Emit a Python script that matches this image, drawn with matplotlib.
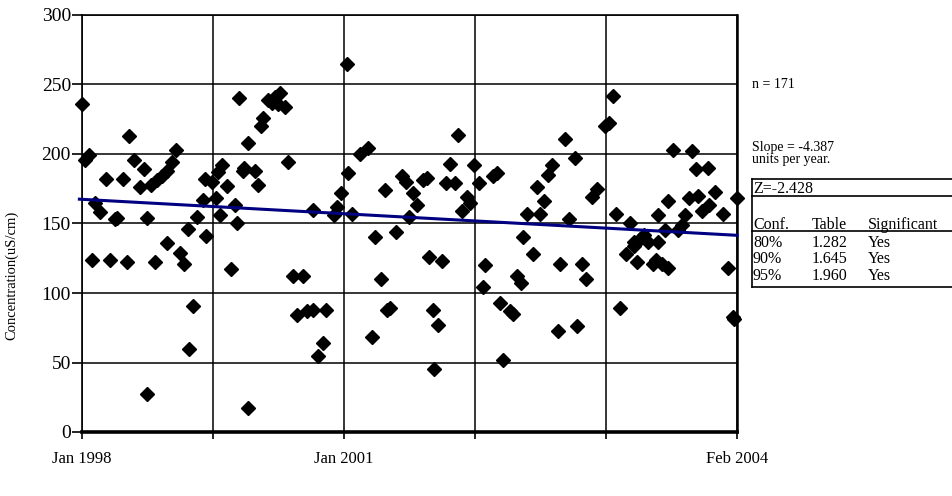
import matplotlib
matplotlib.use("Agg")
import matplotlib.pyplot as plt
from matplotlib.lines import Line2D

plt.rcParams["font.family"] = ["Liberation Serif", "DejaVu Serif"]

# time position in axis units (0 = Jan 1998, 5 = Feb 2004)
t = [0.00, 0.02, 0.05, 0.08, 0.10, 0.14, 0.18, 0.21, 0.25, 0.27,
     0.31, 0.34, 0.36, 0.40, 0.44, 0.47, 0.50, 0.50, 0.53, 0.56,
     0.57, 0.61, 0.65, 0.65, 0.69, 0.72, 0.75, 0.78, 0.81, 0.82,
     0.85, 0.88, 0.92, 0.94, 0.95, 0.99, 1.02, 1.04, 1.05, 1.07,
     1.11, 1.14, 1.17, 1.18, 1.20, 1.23, 1.24, 1.27, 1.27, 1.32,
     1.34, 1.37, 1.38, 1.42, 1.45, 1.47, 1.50, 1.51, 1.55, 1.57,
     1.61, 1.64, 1.69, 1.72, 1.76, 1.76, 1.80, 1.84, 1.86, 1.92,
     1.95, 1.98, 2.02, 2.03, 2.06, 2.12, 2.18, 2.21, 2.24, 2.28,
     2.31, 2.33, 2.35, 2.40, 2.44, 2.47, 2.50, 2.53, 2.56, 2.60,
     2.63, 2.65, 2.68, 2.69, 2.72, 2.75, 2.78, 2.81, 2.85, 2.87,
     2.90, 2.94, 2.96, 2.99, 3.03, 3.06, 3.08, 3.14, 3.17, 3.19,
     3.21, 3.27, 3.29, 3.32, 3.35, 3.37, 3.40, 3.44, 3.47, 3.50,
     3.53, 3.56, 3.59, 3.63, 3.65, 3.69, 3.72, 3.76, 3.78, 3.82,
     3.85, 3.89, 3.93, 3.99, 4.02, 4.05, 4.08, 4.11, 4.15, 4.18,
     4.21, 4.21, 4.24, 4.26, 4.29, 4.32, 4.36, 4.38, 4.40, 4.40,
     4.43, 4.45, 4.47, 4.47, 4.51, 4.55, 4.58, 4.60, 4.63, 4.66,
     4.69, 4.70, 4.73, 4.78, 4.79, 4.83, 4.89, 4.93, 4.97, 4.98,
     5.00]

conc = [236, 196, 199, 124, 165, 158, 182, 124, 153, 154,
        182, 122, 213, 196, 176, 189, 154, 27, 178, 122,
        181, 184, 188, 136, 194, 203, 129, 121, 146, 60,
        91, 155, 167, 182, 141, 180, 168, 187, 156, 192,
        177, 117, 163, 150, 240, 188, 190, 208, 17, 188,
        178, 220, 226, 239, 237, 241, 236, 244, 234, 194,
        112, 84, 112, 87, 88, 160, 55, 64, 88, 156,
        162, 172, 265, 186, 157, 200, 204, 68, 140, 110,
        174, 88, 89, 144, 184, 180, 155, 172, 163, 181,
        183, 126, 88, 45, 77, 123, 179, 193, 179, 214,
        159, 169, 165, 192, 179, 104, 120, 184, 186, 93,
        52, 87, 85, 112, 107, 140, 157, 128, 176, 157,
        166, 185, 192, 73, 121, 211, 153, 197, 76, 121,
        110, 169, 175, 220, 222, 242, 157, 89, 128, 150,
        134, 137, 122, 139, 142, 137, 121, 124, 156, 137,
        121, 145, 166, 118, 203, 145, 149, 156, 168, 202,
        189, 170, 159, 190, 163, 173, 157, 118, 83, 81,
        168]

trend_start = 167.5
trend_end = 141.5

x_ticks = [0, 1, 2, 3, 4, 5]
x_labels = ["Jan 1998", "", "Jan 2001", "", "", "Feb 2004"]
y_ticks = [0, 50, 100, 150, 200, 250, 300]

stats_n = "n = 171"
stats_slope = ["Slope = -4.387", "units per year."]
z_text = "Z=-2.428"
table_header = ["Conf.", "Table", "Significant"]
table_rows = [["80%", "1.282", "Yes"],
              ["90%", "1.645", "Yes"],
              ["95%", "1.960", "Yes"]]

W, H = 953, 496
fig = plt.figure(figsize=(W / 100, H / 100), dpi=100)
ax = fig.add_axes([82 / W, 1 - 432 / H, (737 - 82) / W, (432 - 15) / H])

ax.set_xlim(0, 5)
ax.set_ylim(0, 300)
ax.set_xticks(x_ticks)
ax.set_xticklabels(x_labels, fontsize=12)
ax.set_yticks(y_ticks)
ax.tick_params(axis="y", direction="out", length=7, width=1.2, pad=1, labelsize=14)
ax.tick_params(axis="x", direction="out", length=5, width=1.2, pad=9)
ax.grid(True, color="black", linewidth=1.1)
ax.set_axisbelow(True)
for side in ["left", "top"]:
    ax.spines[side].set_linewidth(1.2)
ax.spines["right"].set_linewidth(1.8)
ax.spines["bottom"].set_linewidth(2.6)

ax.plot(t, conc, linestyle="none", marker="D", markersize=7,
        color="black", clip_on=False, zorder=3)
ax.plot([-0.02, 5.0], [trend_start, trend_end], color="#000080",
        linewidth=2.2, clip_on=False, zorder=4)

fig.text(12 / W, 1 - 275 / H, "Concentration(uS/cm)", rotation=90,
         ha="center", va="center", fontsize=10.5)

# statistics text at the right
fig.text(752 / W, 1 - 85 / H, stats_n, ha="left", va="center", fontsize=10)
fig.text(752 / W, 1 - 148 / H, stats_slope[0], ha="left", va="center", fontsize=10)
fig.text(752 / W, 1 - 160 / H, stats_slope[1], ha="left", va="center", fontsize=10)

# table box
def hline(y):
    fig.add_artist(Line2D([752 / W, 1.0], [1 - y / H, 1 - y / H],
                          color="black", linewidth=1.2))

for y in [179, 196, 231, 287]:
    hline(y)
fig.add_artist(Line2D([752 / W, 752 / W], [1 - 179 / H, 1 - 287 / H],
                      color="black", linewidth=1.2))

fig.text(753 / W, 1 - 193 / H, z_text, ha="left", va="baseline", fontsize=11.5)
col_x = [753, 812, 868]
for cx, lab in zip(col_x, table_header):
    fig.text(cx / W, 1 - 229 / H, lab, ha="left", va="baseline", fontsize=11.5)
for row, yb in zip(table_rows, [247, 263, 280]):
    for cx, lab in zip(col_x, row):
        fig.text(cx / W, 1 - yb / H, lab, ha="left", va="baseline", fontsize=11.5)

fig.savefig("out.png", dpi=100)
